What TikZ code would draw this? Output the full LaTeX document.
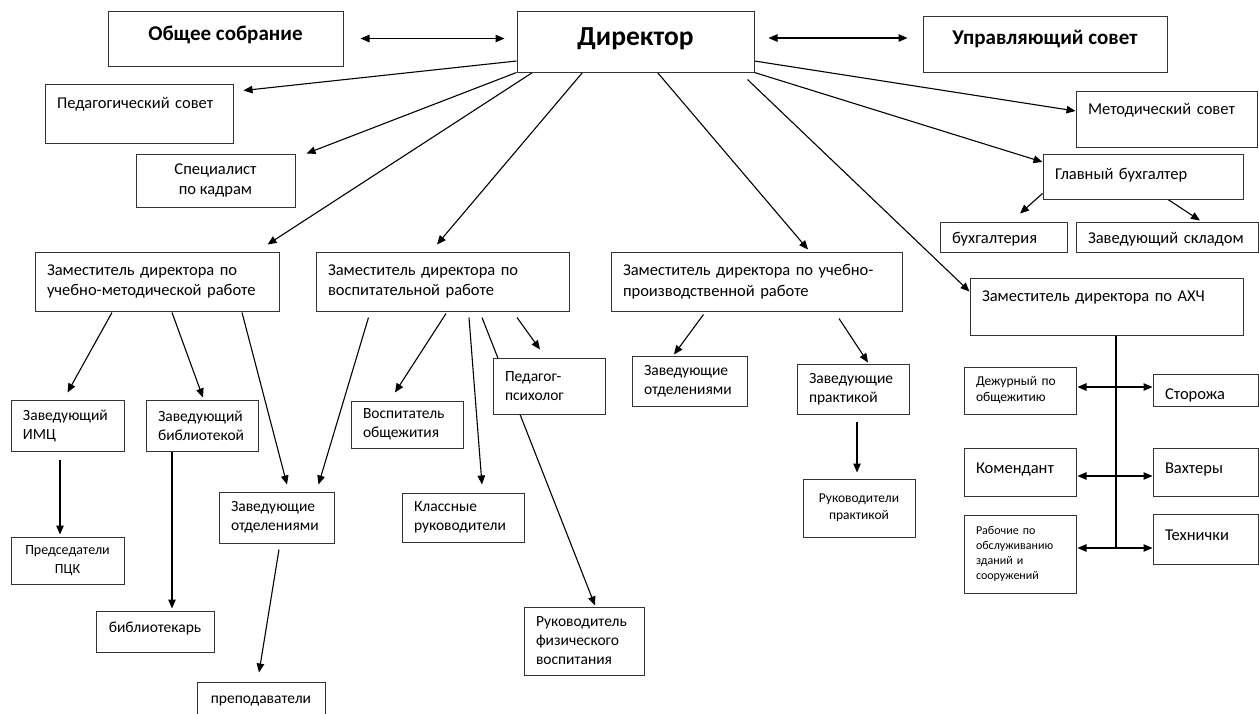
\documentclass[tikz,border=0pt]{standalone}
\usepackage{fontspec}
\setmainfont{Carlito}
\usepackage{tikz}
\usetikzlibrary{arrows.meta, positioning, backgrounds}

\begin{document}
\begin{tikzpicture}[x=1pt, y=-1pt, >={Triangle[length=9pt,width=7.5pt]},
		fbig/.style={font=\fontsize{16.5}{20.5}\selectfont},
		fsmall/.style={font=\fontsize{15.5}{19}\selectfont},
		ftitle/.style={font=\fontsize{21}{25}\selectfont\bfseries},
		box/.style={draw=black!80, line width=1pt, fill=white, inner sep=0pt, fbig},
		wh/.style 2 args={minimum width=#1pt, minimum height=#2pt, align=center},
		lt/.code 2 args={\pgfmathsetmacro\boxtw{#1-24}\pgfkeysalso{align=left, text width/.expanded=\boxtw pt, minimum width=#1pt, minimum height=#2pt}},
		bl/.code={\pgfmathsetmacro\bla{12-(#1)}\pgfmathsetmacro\blb{12+(#1)}\pgfkeysalso{text height/.expanded=\bla pt, text depth/.expanded=\blb pt}},
		link/.style={->, line width=1.1pt, draw=black}]
	\useasboundingbox (0,0) rectangle (1259,713);

	% top row
	\node[box, ftitle, wh={235}{55}, bl=-2] (obs) at (225.5,38.5) {Общее собрание};
	\node[box, font=\fontsize{27.5}{32}\selectfont\bfseries, wh={237}{61}, bl=-4] (dir) at (635.5,41.5) {Директор};
	\node[box, ftitle, wh={244}{56}, bl=0] (upr) at (1045,44) {Управляющий совет};

	\node[box, lt={188}{59}, bl=5.5] (ped) at (139,113.5) {Педагогический совет};
	\node[box, wh={159}{53}] (kadr) at (215.5,180.5) {Специалист\\по кадрам};
	\node[box, lt={181}{56}, bl=5] (met) at (1166.5,119) {Методический совет};
	\node[box, lt={200}{45}, bl=-3] (buh) at (1143,176.5) {Главный бухгалтер};
	\node[box, lt={127}{30}, bl=-6] (bux) at (1003.5,237) {бухгалтерия};
	\node[box, lt={182}{30}, bl=-6] (sklad) at (1167,237) {Заведующий складом};

	% deputies
	\node[box, lt={244}{59}] (umr) at (157,281.5) {Заместитель директора по\\учебно-методической работе};
	\node[box, lt={253}{59}] (vr) at (442.5,281.5) {Заместитель директора по\\воспитательной работе};
	\node[box, lt={291}{59}] (upp) at (756.5,281.5) {Заместитель директора по учебно-\\производственной работе};
	\node[box, lt={273}{57}, bl=5.5] (ahch) at (1106.5,306.5) {Заместитель директора по АХЧ};

	% under umr
	\node[box, fsmall, lt={113}{51}] (imc) at (67.5,425.5) {Заведующий\\ИМЦ};
	\node[box, fsmall, lt={112}{51}] (bib) at (202,425.5) {Заведующий\\библиотекой};
	\node[box, font=\fontsize{14}{19}\selectfont, wh={113}{47}] (pck) at (67.5,560.5) {Председатели\\ПЦК};
	\node[box, fsmall, wh={118}{41}, bl=-1] (bibl) at (155,631.5) {библиотекарь};
	\node[box, fsmall, lt={115}{51}] (otd) at (276.5,517.5) {Заведующие\\отделениями};
	\node[box, fsmall, wh={128}{38}, bl=-2] (prep) at (261,701) {преподаватели};

	% under vr
	\node[box, fsmall, lt={112}{47}] (vosp) at (407,424.5) {Воспитатель\\общежития};
	\node[box, fsmall, lt={122}{49}] (kl) at (463,517.5) {Классные\\руководители};
	\node[box, fsmall, lt={112}{56}] (psy) at (549,386) {Педагог-\\психолог};
	\node[box, fsmall, lt={120}{68}] (fiz) at (584,641) {Руководитель\\физического\\воспитания};

	% under upp
	\node[box, fsmall, lt={115}{50}] (otd2) at (689.5,381) {Заведующие\\отделениями};
	\node[box, fsmall, lt={112}{50}] (prak) at (853,389) {Заведующие\\практикой};
	\node[box, font=\fontsize{13.5}{17}\selectfont, wh={112}{58}] (rprak) at (859,508) {Руководители\\практикой};

	% under ahch
	\node[box, font=\fontsize{13.5}{16}\selectfont, lt={112}{47}] (dej) at (1020,390.5) {Дежурный по\\общежитию};
	\node[box, lt={105}{32}, bl=-9.5] (stor) at (1205.5,390) {Сторожа};
	\node[box, lt={112}{48}, bl=-1] (kom) at (1020,472) {Комендант};
	\node[box, lt={105}{48}, bl=-1] (vax) at (1205.5,472) {Вахтеры};
	\node[box, font=\fontsize{12}{15}\selectfont, lt={112}{78}] (rab) at (1020,554) {Рабочие по\\обслуживанию\\зданий и\\сооружений};
	\node[box, lt={105}{50}, bl=-1] (tex) at (1205.5,539) {Технички};

	\coordinate (bus) at ([xshift=9.5pt,yshift=6pt]ahch.south |- rab.east);

	\begin{pgfonlayer}{background}
		\draw[link, <->] ([xshift=17pt]obs.east) to ([xshift=-12pt]obs.east -| dir.west);
		\draw[link, <->] ([xshift=14pt,yshift=3.5pt]dir.east) to ([xshift=-15pt,yshift=3.5pt]dir.east -| upr.west);

		\draw[link] ([yshift=-19.5pt]dir.west) to ([xshift=10pt,yshift=-7pt]ped.north east);
		\draw[link] (dir.south west) to ([xshift=11pt]kadr.north east);
		\draw[link] ([xshift=16pt]dir.south west) to ([xshift=-12pt,yshift=7pt]umr.north east);
		\draw[link] ([xshift=66pt]dir.south west) to ([xshift=-5.5pt,yshift=7pt]vr.north);
		\draw[link] ([xshift=141pt]dir.south west) to ([xshift=51.5pt,yshift=2pt]upp.north);
		\draw[link] ([xshift=-7pt,yshift=-7pt]dir.south east) to ([yshift=-14pt]ahch.north west);
		\draw[link] ([yshift=-19.5pt]dir.east) to ([yshift=8pt]met.west);
		\draw[link] (dir.south east) to ([yshift=14.5pt]buh.west);
		\draw[link] ([yshift=6pt]buh.south west) to ([xshift=16.5pt,yshift=8pt]bux.north);
		\draw[link] ([xshift=25pt]buh.south) to ([xshift=33pt,yshift=1pt]sklad.north);

		\draw[link] ([xshift=-45pt,yshift=-1pt]umr.south) to ([yshift=7pt]imc.north);
		\draw[link] ([xshift=15pt,yshift=-1pt]umr.south) to ([xshift=1pt,yshift=2pt]bib.north);
		\draw[link] ([xshift=85pt,yshift=-1pt]umr.south) to ([xshift=10.5pt,yshift=7pt]otd.north);
		\draw[link] ([xshift=-7.5pt,yshift=-8pt]imc.south) to ([xshift=-7.5pt,yshift=2pt]pck.north);
		\draw[link] ([xshift=-30pt]bib.south) to ([xshift=17pt,yshift=2pt]bibl.north);
		\draw[link] ([xshift=2.5pt,yshift=-6pt]otd.south) to ([xshift=-2pt,yshift=9pt]prep.north);

		\draw[link] ([xshift=53pt,yshift=-6pt]vr.south west) to ([xshift=-16pt,yshift=7pt]otd.north east);
		\draw[link] ([xshift=3.5pt,yshift=-2pt]vr.south) to ([xshift=-12pt,yshift=8pt]vosp.north);
		\draw[link] ([xshift=26.5pt,yshift=-6pt]vr.south) to ([xshift=19pt,yshift=8pt]kl.north);
		\draw[link] ([xshift=39.5pt,yshift=-6pt]vr.south) to ([xshift=11pt,yshift=1pt]fiz.north);
		\draw[link] ([xshift=74.5pt,yshift=-6pt]vr.south) to ([xshift=-9pt,yshift=8pt]psy.north);

		\draw[link] ([xshift=93pt,yshift=-3pt]upp.south west) to ([xshift=-15.5pt,yshift=1pt]otd2.north);
		\draw[link] ([xshift=82.5pt,yshift=-7pt]upp.south) to ([xshift=15pt,yshift=1pt]prak.north);
		\draw[link] ([xshift=4pt,yshift=-7pt]prak.south) to ([xshift=-2pt,yshift=6pt]rprak.north);

		\draw[line width=1.1pt] ([xshift=9.5pt]ahch.south) to (bus);
		\draw[link, <->] ([xshift=1pt,yshift=3.5pt]dej.east) to ([yshift=3.5pt]dej.east -| stor.west);
		\draw[link, <->] ([xshift=1pt,yshift=-4pt]kom.east) to ([yshift=-4pt]kom.east -| vax.west);
		\draw[link, <->] ([xshift=1pt,yshift=6pt]rab.east) to ([yshift=6pt]rab.east -| tex.west);
	\end{pgfonlayer}
\end{tikzpicture}
\end{document}
